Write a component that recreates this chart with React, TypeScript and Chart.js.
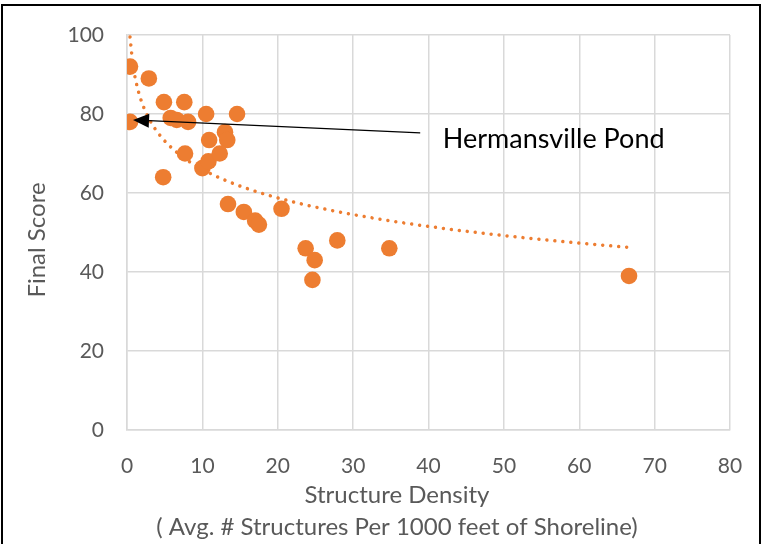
import React, { useEffect, useRef } from "react";
import { Chart, registerables } from "chart.js";

Chart.register(...registerables);

// Structure density (avg # structures per 1000 ft of shoreline)
const densityValues: number[] = [
  0.4, 2.9, 4.9, 7.6, 0.4, 5.8, 6.6, 8.1, 10.5, 14.6,
  4.8, 7.7, 10.0, 10.8, 10.9, 13.0, 13.3, 12.3,
  13.4, 15.5, 17.0, 17.5, 20.5, 23.7, 24.9, 24.6, 27.9, 34.8, 66.6,
];
// Final score per lake
const scoreValues: number[] = [
  92, 89, 83, 83, 78, 79, 78.5, 78, 80, 80,
  64, 70, 66.3, 68, 73.4, 75.4, 73.4, 70,
  57.2, 55.2, 53, 52, 56, 46, 43, 38, 48, 46, 39,
];

const xTicks = { min: 0, max: 80, step: 10 };
const yTicks = { min: 0, max: 100, step: 20 };

const xTitleLines = ["Structure Density", "( Avg. # Structures Per 1000 feet of Shoreline)"];
const yTitle = "Final Score";

// annotation: label and arrow (data units)
const annotationLabel = "Hermansville Pond";
const arrowFrom = { x: 38.9, y: 75.2 };
const arrowTo = { x: 0.8, y: 78.5 };
const labelAt = { x: 41.9, y: 73.6 };

const ORANGE = "#ED7D31";
const GREY = "#595959";
const FONT = "Lato, 'Liberation Sans', sans-serif";

function logFit(xs: number[], ys: number[]) {
  const n = xs.length;
  let sx = 0, sy = 0, sxx = 0, sxy = 0;
  for (let i = 0; i < n; i++) {
    const lx = Math.log(xs[i]);
    sx += lx; sy += ys[i]; sxx += lx * lx; sxy += lx * ys[i];
  }
  const b = (n * sxy - sx * sy) / (n * sxx - sx * sx);
  const a = (sy - b * sx) / n;
  return { a, b };
}

export default function App() {
  const ref = useRef<HTMLCanvasElement>(null);
  useEffect(() => {
    if (!ref.current) return;
    const points = densityValues.map((x, i) => ({ x, y: scoreValues[i] }));
    const { a, b } = logFit(densityValues, scoreValues);
    const minX = Math.min(...densityValues);
    const maxX = Math.max(...densityValues);
    const trend: { x: number; y: number }[] = [];
    const N = 200;
    for (let i = 0; i <= N; i++) {
      const x = minX + ((maxX - minX) * i) / N;
      trend.push({ x, y: a + b * Math.log(x) });
    }

    const overlay = {
      id: "overlay",
      afterDraw(chart: any) {
        const c = chart.ctx;
        const xs = chart.scales.x;
        const ys = chart.scales.y;
        c.save();
        // arrow
        const x1 = xs.getPixelForValue(arrowFrom.x), y1 = ys.getPixelForValue(arrowFrom.y);
        const x2 = xs.getPixelForValue(arrowTo.x), y2 = ys.getPixelForValue(arrowTo.y);
        const ang = Math.atan2(y2 - y1, x2 - x1);
        const head = 16, hw = 7;
        const bx = x2 - head * Math.cos(ang), by = y2 - head * Math.sin(ang);
        c.strokeStyle = "#000";
        c.lineWidth = 1.3;
        c.beginPath();
        c.moveTo(x1, y1);
        c.lineTo(bx, by);
        c.stroke();
        c.fillStyle = "#000";
        c.beginPath();
        c.moveTo(x2, y2);
        c.lineTo(bx + hw * Math.sin(ang), by - hw * Math.cos(ang));
        c.lineTo(bx - hw * Math.sin(ang), by + hw * Math.cos(ang));
        c.closePath();
        c.fill();
        // label
        c.font = `27px ${FONT}`;
        c.textBaseline = "middle";
        c.textAlign = "left";
        c.fillText(annotationLabel, xs.getPixelForValue(labelAt.x), ys.getPixelForValue(labelAt.y));
        // axis titles
        c.fillStyle = GREY;
        c.textAlign = "center";
        c.font = `24px ${FONT}`;
        c.fillText(xTitleLines[0], 397, 495);
        c.fillText(xTitleLines[1], 397, 527);
        c.save();
        c.translate(37, 240);
        c.rotate(-Math.PI / 2);
        c.fillText(yTitle, 0, 0);
        c.restore();
        // frame
        c.strokeStyle = "#000";
        c.lineWidth = 2;
        c.strokeRect(2, 5, 758, 560);
        c.restore();
      },
    };

    const chart = new Chart(ref.current, {
      type: "scatter",
      data: {
        datasets: [
          {
            type: "line",
            data: trend,
            borderColor: ORANGE,
            borderWidth: 3.5,
            borderDash: [0.01, 8],
            borderCapStyle: "round",
            pointRadius: 0,
            fill: false,
            tension: 0,
            order: 2,
          } as any,
          {
            data: points,
            backgroundColor: ORANGE,
            borderColor: ORANGE,
            pointRadius: 8.3,
            pointBorderWidth: 0,
            order: 1,
          },
        ],
      },
      plugins: [overlay],
      options: {
        animation: false,
        responsive: false,
        maintainAspectRatio: false,
        layout: { padding: { left: 0, top: 35, right: 33, bottom: 0 } },
        plugins: { legend: { display: false }, tooltip: { enabled: false }, title: { display: false } },
        scales: {
          x: {
            type: "linear",
            min: xTicks.min,
            max: xTicks.max,
            afterFit: (s: any) => { s.height = 114; s.paddingLeft = 0; s.paddingRight = 0; },
            ticks: { stepSize: xTicks.step, color: GREY, font: { family: FONT, size: 21 }, padding: 24 },
            grid: { color: "#d9d9d9", lineWidth: 1.5, drawTicks: false },
            border: { color: "#d9d9d9", width: 1.5 },
          },
          y: {
            type: "linear",
            min: yTicks.min,
            max: yTicks.max,
            afterFit: (s: any) => { s.width = 127; s.paddingTop = 0; s.paddingBottom = 0; },
            ticks: { stepSize: yTicks.step, color: GREY, font: { family: FONT, size: 21 }, padding: 23 },
            grid: { color: "#d9d9d9", lineWidth: 1.5, drawTicks: false },
            border: { color: "#d9d9d9", width: 1.5 },
          },
        },
      },
    });
    return () => chart.destroy();
  }, []);
  return (
    <div style={{ position: "fixed", left: 0, top: 0, width: 763, height: 544, background: "#fff" }}>
      <canvas ref={ref} width={763} height={544} style={{ width: 763, height: 544, display: "block" }} />
    </div>
  );
}
